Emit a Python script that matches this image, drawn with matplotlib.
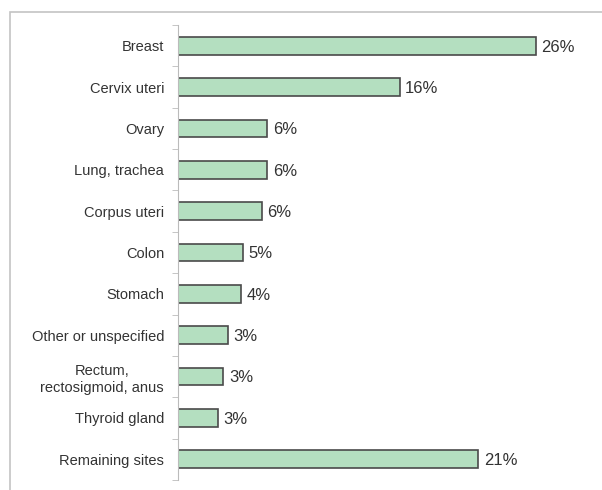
import matplotlib.pyplot as plt
from matplotlib.patches import Rectangle

sites = ['Breast', 'Cervix uteri', 'Ovary', 'Lung, trachea', 'Corpus uteri',
         'Colon', 'Stomach', 'Other or unspecified', 'Rectum,\nrectosigmoid, anus',
         'Thyroid gland', 'Remaining sites']
values = [26.0, 16.1, 6.5, 6.5, 6.1, 4.7, 4.6, 3.6, 3.3, 2.9, 21.8]
labels = ['26%', '16%', '6%', '6%', '6%', '5%', '4%', '3%', '3%', '3%', '21%']

plt.rcParams['font.family'] = ['Liberation Sans', 'DejaVu Sans']

fig = plt.figure(figsize=(6.02, 4.9), dpi=100)
# outer light frame
fig.patches.append(Rectangle((9.5 / 602, -0.05), 1.1, 1.05 - 12 / 490,
                             transform=fig.transFigure, fill=False,
                             edgecolor='#c4c4c4', lw=1.2))
ax = fig.add_axes([178 / 602, 10 / 490, 413 / 602, 455 / 490])

pos = list(range(len(sites)))
ax.barh(pos, values, height=0.43, color='#b4dfc0', edgecolor='#4a4a4a', lw=1.2)
for p, v, t in zip(pos, values, labels):
    ax.annotate(t, (v, p), xytext=(4, -1), textcoords='offset points',
                va='center', ha='left', fontsize=12, color='#333333')

ax.set_xlim(0, 30)
ax.set_ylim(len(sites) - 0.5, -0.5)
ax.set_yticks(pos)
ax.set_yticklabels(sites, fontsize=10.5, color='#333333', linespacing=1.25)
ax.tick_params(axis='y', which='major', length=0, pad=10)
ax.set_yticks([i - 0.5 for i in range(len(sites) + 1)], minor=True)
ax.tick_params(axis='y', which='minor', length=4, color='#bbbbbb', direction='out')
ax.set_xticks([])
for s in ['top', 'right', 'bottom']:
    ax.spines[s].set_visible(False)
ax.spines['left'].set_color('#bbbbbb')
for t in ax.get_yticklabels():
    t.set_multialignment('center')

fig.savefig('out.png', dpi=100)
